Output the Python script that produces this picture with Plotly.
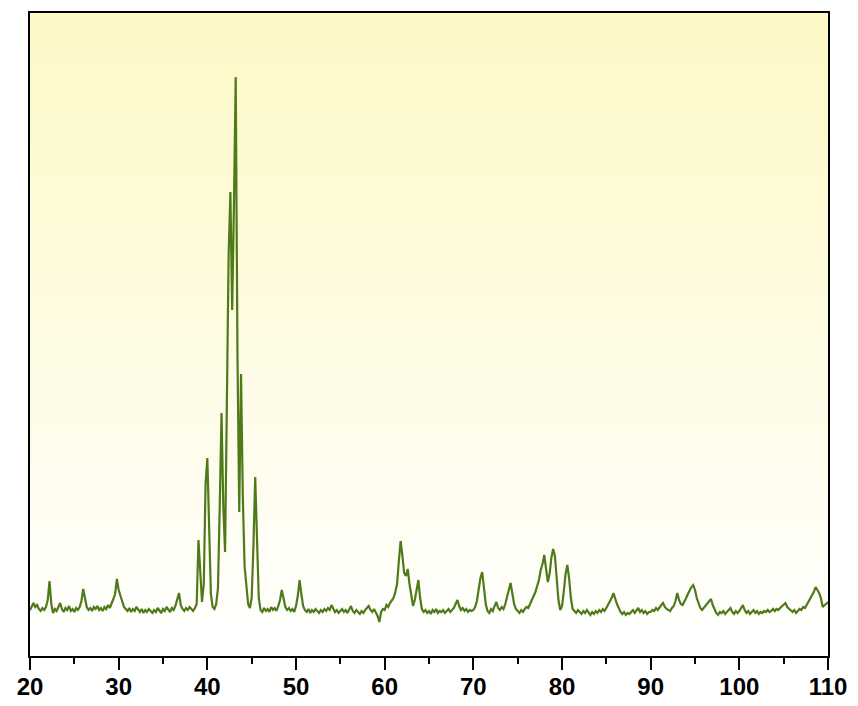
import plotly.graph_objects as go

# XRD scan, 0.2 deg step, intensity in arbitrary units
step = 0.2
seg_starts = [20, 30, 40, 50, 60, 70, 80, 90, 100]

i_20 = [46, 50, 53, 49, 51, 47, 45, 48, 46, 49,
        56, 75, 52, 43, 47, 45, 49, 53, 47, 44,
        48, 46, 50, 45, 47, 44, 48, 46, 49, 55,
        67, 58, 49, 46, 48, 45, 49, 47, 50, 46,
        48, 45, 49, 47, 51, 48, 52, 57, 62, 77]
i_30 = [66, 60, 55, 49, 47, 45, 48, 44, 47, 45,
        49, 46, 44, 47, 43, 46, 44, 47, 45, 43,
        46, 44, 48, 45, 43, 47, 45, 49, 46, 44,
        48, 46, 50, 58, 63, 51, 47, 45, 48, 46,
        49, 47, 45, 48, 52, 116, 78, 54, 72, 172]
i_40 = [198, 115, 62, 49, 47, 52, 68, 150, 243, 150,
        104, 250, 400, 464, 346, 450, 579, 300, 144, 282,
        160, 90, 72, 52, 48, 58, 110, 179, 118, 58,
        46, 44, 48, 45, 47, 44, 49, 46, 48, 45,
        50, 56, 66, 58, 49, 46, 48, 45, 47, 44]
i_50 = [50, 60, 76, 62, 50, 46, 44, 47, 43, 46,
        44, 47, 45, 43, 46, 44, 47, 45, 48, 46,
        51, 47, 44, 46, 43, 45, 47, 44, 46, 43,
        47, 50, 45, 43, 46, 44, 42, 45, 43, 46,
        48, 50, 46, 44, 47, 43, 40, 34, 44, 47]
i_60 = [46, 51, 49, 53, 56, 58, 64, 72, 95, 115,
        100, 83, 80, 87, 72, 58, 50, 56, 68, 76,
        58, 47, 44, 46, 43, 45, 42, 46, 44, 47,
        43, 45, 44, 46, 43, 45, 47, 44, 46, 48,
        52, 56, 50, 46, 48, 45, 47, 44, 46, 45]
i_70 = [46, 49, 55, 66, 78, 84, 66, 52, 45, 43,
        47, 45, 50, 54, 48, 46, 49, 47, 52, 58,
        66, 73, 64, 52, 47, 45, 43, 46, 44, 47,
        49, 48, 52, 55, 60, 64, 70, 76, 86, 92,
        101, 88, 74, 82, 98, 107, 100, 78, 56, 46]
i_80 = [50, 64, 82, 91, 78, 58, 47, 45, 43, 46,
        44, 42, 45, 43, 46, 44, 41, 44, 42, 45,
        43, 46, 44, 47, 45, 48, 51, 55, 58, 63,
        57, 52, 48, 44, 42, 44, 41, 43, 42, 44,
        46, 43, 45, 48, 44, 46, 43, 45, 42, 44]
i_90 = [44, 46, 45, 48, 46, 49, 51, 53, 49, 47,
        46, 45, 48, 50, 55, 63, 56, 52, 51, 54,
        58, 62, 66, 69, 71, 66, 58, 52, 48, 46,
        48, 50, 53, 55, 57, 51, 46, 43, 41, 44,
        43, 45, 42, 44, 46, 48, 44, 42, 45, 43]
i_100 = [45, 48, 51, 46, 43, 45, 42, 44, 46, 43,
         45, 42, 44, 43, 45, 44, 46, 44, 45, 47,
         45, 47, 46, 48, 50, 52, 53, 49, 47, 45,
         44, 46, 43, 45, 47, 46, 49, 48, 51, 54,
         57, 60, 64, 69, 66, 63, 58, 49, 51, 52,
         54]

segments = [i_20, i_30, i_40, i_50, i_60, i_70, i_80, i_90, i_100]
two_theta, intensity = [], []
for s0, seg in zip(seg_starts, segments):
    two_theta += [round(s0 + step * k, 1) for k in range(len(seg))]
    intensity += seg

fig = go.Figure()

# pale yellow -> white background, drawn as thin bands
n_bands = 80
top_rgb = (253, 248, 196)
for k in range(n_bands):
    f = k / (n_bands - 1)
    r = round(top_rgb[0] + (255 - top_rgb[0]) * f)
    g = round(top_rgb[1] + (255 - top_rgb[1]) * f)
    b = round(top_rgb[2] + (255 - top_rgb[2]) * f)
    fig.add_shape(type="rect", xref="x domain", yref="y domain",
                  x0=0, x1=1, y0=1 - (k + 1) / n_bands, y1=1 - k / n_bands,
                  fillcolor=f"rgb({r},{g},{b})", line_width=0, layer="below")

fig.add_trace(go.Scatter(x=two_theta, y=intensity, mode="lines",
                         line=dict(color="#4f7a1a", width=2.2),
                         showlegend=False, hoverinfo="x+y"))

fig.update_layout(
    width=858, height=706,
    margin=dict(l=30, r=30, t=13, b=50),
    paper_bgcolor="white", plot_bgcolor="white",
)
fig.update_xaxes(range=[20, 110], dtick=10, tick0=20, automargin=False,
                 showline=True, linecolor="black", linewidth=2, mirror=True,
                 ticks="outside", ticklen=12, tickwidth=2, tickcolor="black",
                 minor=dict(dtick=5, ticks="outside", ticklen=6, tickwidth=2, tickcolor="black"),
                 showgrid=False, zeroline=False, ticklabelstandoff=-4,
                 tickfont=dict(family="Liberation Sans, Arial", size=24, color="black", weight="bold"))
fig.update_yaxes(range=[0, 643], automargin=False,
                 showline=True, linecolor="black", linewidth=2, mirror=True,
                 showticklabels=False, ticks="", showgrid=False, zeroline=False)

# drop the page's default body margin so the figure sits at the window corner
fig.write_html("out.html", config={"displayModeBar": False},
               post_script="document.body.style.margin='0px';")
